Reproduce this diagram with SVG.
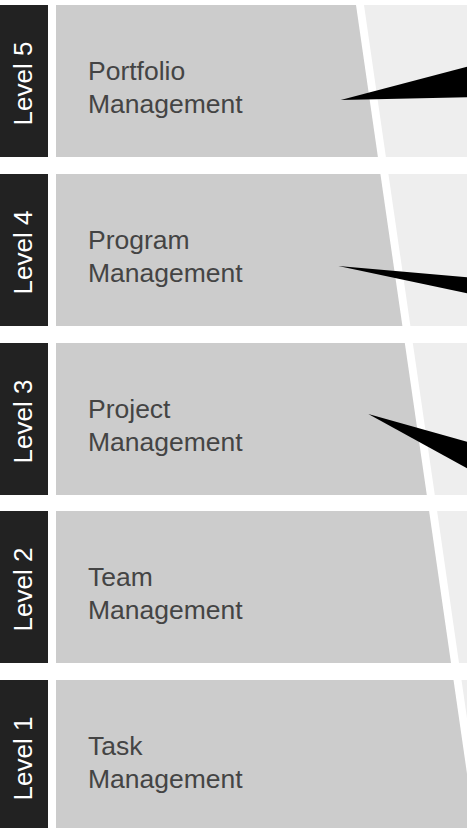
<svg xmlns="http://www.w3.org/2000/svg" width="467" height="828" viewBox="0 0 467 828">
<style>
.bar{fill:#222222}
.light{fill:#eeeeee}
.gap{fill:#ffffff}
.band{fill:#cccccc}
.lvl{font-family:"Liberation Sans",Arial,sans-serif;font-size:26px;fill:#ffffff;text-anchor:middle}
.name{font-family:"Liberation Sans",Arial,sans-serif;font-size:26.5px;fill:#444444}
.wedge{fill:#000000}
</style>
<rect width="467" height="828" fill="#ffffff"/>
<g id="level5">
<rect class="bar" x="0" y="5" width="48" height="152"/>
<rect class="light" x="56" y="5" width="411" height="152"/>
<polygon class="gap" points="56,5 364,5 385.9,157 56,157"/>
<polygon class="band" points="56,5 356,5 377.9,157 56,157"/>
<text class="lvl" transform="translate(32,83.5) rotate(-90)">Level 5</text>
<text class="name" x="88" y="80">Portfolio</text>
<text class="name" x="88" y="113">Management</text>
</g>
<g id="level4">
<rect class="bar" x="0" y="174" width="48" height="152"/>
<rect class="light" x="56" y="174" width="411" height="152"/>
<polygon class="gap" points="56,174 388.4,174 410.4,326 56,326"/>
<polygon class="band" points="56,174 380.4,174 402.4,326 56,326"/>
<text class="lvl" transform="translate(32,252.5) rotate(-90)">Level 4</text>
<text class="name" x="88" y="249">Program</text>
<text class="name" x="88" y="282">Management</text>
</g>
<g id="level3">
<rect class="bar" x="0" y="343" width="48" height="152"/>
<rect class="light" x="56" y="343" width="411" height="152"/>
<polygon class="gap" points="56,343 412.8,343 434.8,495 56,495"/>
<polygon class="band" points="56,343 404.8,343 426.8,495 56,495"/>
<text class="lvl" transform="translate(32,421.5) rotate(-90)">Level 3</text>
<text class="name" x="88" y="418">Project</text>
<text class="name" x="88" y="451">Management</text>
</g>
<g id="level2">
<rect class="bar" x="0" y="511" width="48" height="152"/>
<rect class="light" x="56" y="511" width="411" height="152"/>
<polygon class="gap" points="56,511 437.1,511 459,663 56,663"/>
<polygon class="band" points="56,511 429.1,511 451,663 56,663"/>
<text class="lvl" transform="translate(32,589.5) rotate(-90)">Level 2</text>
<text class="name" x="88" y="586">Team</text>
<text class="name" x="88" y="619">Management</text>
</g>
<g id="level1">
<rect class="bar" x="0" y="680" width="48" height="152"/>
<rect class="light" x="56" y="680" width="411" height="152"/>
<polygon class="gap" points="56,680 461.5,680 483.4,832 56,832"/>
<polygon class="band" points="56,680 453.5,680 475.4,832 56,832"/>
<text class="lvl" transform="translate(32,758.5) rotate(-90)">Level 1</text>
<text class="name" x="88" y="755">Task</text>
<text class="name" x="88" y="788">Management</text>
</g>
<g id="pointers">
<polygon class="wedge" points="340.7,100 467,66.7 467,97.3"/>
<polygon class="wedge" points="338.3,266 467,277.3 467,293.3"/>
<polygon class="wedge" points="368.3,414 467,441.7 467,468.3"/>
</g>
</svg>
